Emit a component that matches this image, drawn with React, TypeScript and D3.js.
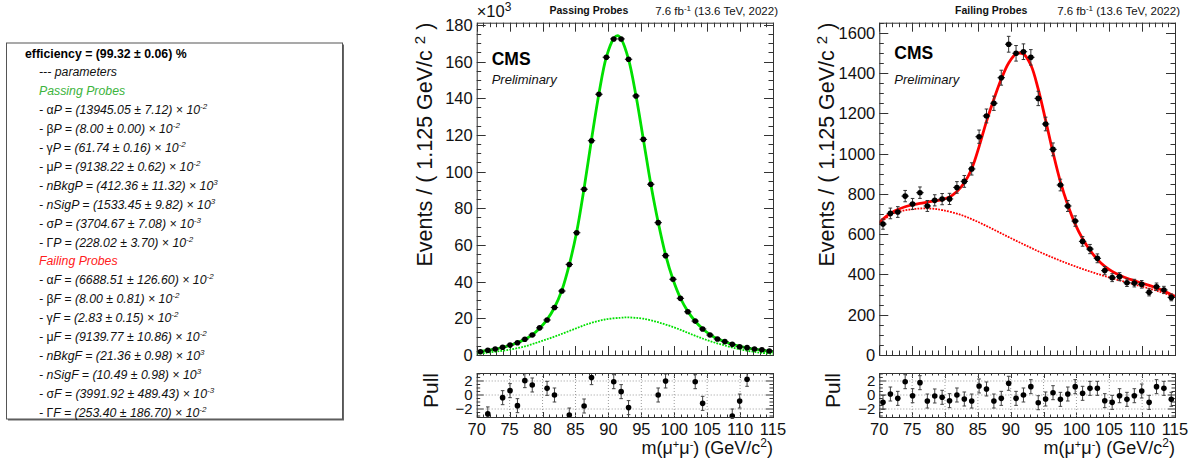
import React from 'react';
import * as d3 from 'd3';

const W = 1203, H = 467;
const FONT = "'Liberation Sans', Arial, Helvetica, sans-serif";

// histogram binning
const massMin = 70, massMax = 115, binWidth = 1.125;
const binCenters = d3.range(40).map(i => massMin + (i + 0.5) * binWidth);

// Passing probes, events per bin (x10^3)
const passingCounts = [1.8, 2.6, 3.3, 4.2, 5.4, 6.7, 8.6, 10.9, 14.8, 19.1, 25.9, 34.9, 49.4, 66.7, 90.4, 116.9, 142.2, 162.4, 172.4, 172.4, 161.3, 141.3, 117.6, 93.1, 72.2, 54.2, 41.3, 30.9, 23.6, 18.5, 14.2, 10.9, 8.7, 7.3, 5.8, 4.5, 4.0, 3.3, 2.9, 2.2];
// Failing probes, events per bin
const failingCounts = [650, 703, 710, 789, 750, 806, 740, 768, 774, 775, 832, 862, 924, 1084, 1187, 1250, 1377, 1543, 1498, 1506, 1478, 1274, 1147, 1021, 844, 740, 665, 564, 526, 480, 419, 384, 389, 359, 357, 351, 311, 339, 323, 286];

// pulls (null = outside the displayed range)
const passingPulls = [null, -2.7, null, -0.38, 0.62, -1.52, 2.05, 1.43, null, 0.95, 0.0, null, -2.86, null, -1.57, 2.48, null, null, 1.9, 0.48, -1.8, null, null, null, 0.0, 2.0, null, null, null, 1.9, -1.19, null, null, null, -3.0, -0.86, 2.24, null, null, null];
const failingPulls = [-1.05, 0.14, -0.48, 1.9, -0.1, 1.76, -0.86, -0.14, -0.33, -0.81, 0, -0.57, -0.86, 1.29, 0.86, -0.86, -0.48, 1.67, -0.48, 0, 1.19, -1.1, -0.57, 0.33, -0.62, 0.14, 1.19, 0.24, 0.95, 0.95, -0.81, -1.05, -0.1, -0.62, -0.1, 0.57, -1.05, 1.19, 0.95, -0.62];

// fitted curves
const passingFitX = [70, 70.5625, 71.6875, 72.8125, 73.9375, 75.0625, 76.1875, 77.3125, 78.4375, 79.5625, 80.6875, 81.8125, 82.9375, 84.0625, 85.1875, 86.3125, 87.4375, 88.5625, 89.6875, 90.8125, 91.4, 91.9375, 93.0625, 94.1875, 95.3125, 96.4375, 97.5625, 98.6875, 99.8125, 100.9375, 102.0625, 103.1875, 104.3125, 105.4375, 106.5625, 107.6875, 108.8125, 109.9375, 111.0625, 112.1875, 113.3125, 114.4375, 115];
const passingFitY = [1.5, 1.9, 2.5, 3.2, 4.1, 5.3, 6.7, 8.6, 11.0, 14.6, 19.3, 25.9, 35.3, 49.3, 67.2, 91.0, 117.5, 142.5, 162.5, 172.6, 174.2, 172.4, 161.3, 141.5, 117.6, 93.3, 72.4, 54.6, 41.2, 31.1, 23.8, 18.4, 14.3, 11.1, 8.8, 7.2, 5.8, 4.7, 3.9, 3.2, 2.6, 2.1, 1.9];
const passingBkgX = [70, 71.5, 73, 74.6, 77.1, 79.6, 82.1, 84.7, 87.2, 89.7, 91.8, 92.8, 94, 95.3, 97.8, 100.4, 102.9, 105.4, 108, 110.5, 113, 115];
const passingBkgY = [0.6, 1.2, 1.9, 2.7, 4.5, 7.3, 10.4, 14.0, 17.3, 19.5, 20.3, 20.5, 20.3, 19.8, 17.6, 14.5, 10.9, 7.6, 4.9, 2.7, 1.3, 0.6];

const failingFitX = passingFitX.filter(x => x !== 91.4);
const failingFitY = [657, 675, 703, 722, 736, 746, 753, 759, 765, 772, 785, 812, 855, 925, 1035, 1160, 1270, 1370, 1450, 1495, 1495, 1440, 1320, 1165, 1005, 860, 745, 650, 577, 520, 475, 440, 415, 396, 381, 369, 357, 346, 333, 318, 300, 291];
const failingBkgX = [70, 71.6, 73, 74.6, 76, 77.2, 78.5, 79.7, 82.3, 84.8, 87.4, 89.9, 92.5, 95, 97.5, 100, 102.5, 105, 107.5, 110, 112.5, 115];
const failingBkgY = [652, 693, 712, 722, 727, 728, 725, 719, 697, 664, 623, 582, 541, 503, 469, 438, 410, 385, 362, 340, 316, 288];

// tick definitions
const xMajorTicks = d3.range(70, 116, 5);
const xMinorTicks = d3.range(70, 116, 1);
const passingYMajor = d3.range(0, 181, 20);
const passingYMinor = d3.range(0, 182, 5);
const failingYMajor = d3.range(0, 1601, 200);
const failingYMinor = d3.range(0, 1651, 50);
const pullMajor = [-2, 0, 2];
const pullMinor = d3.range(-3, 3.01, 0.5);

// parameter box
const passingParams = [
  ['α', 'P', '13945.05', '7.12', '-2'],
  ['β', 'P', '8.00', '0.00', '-2'],
  ['γ', 'P', '61.74', '0.16', '-2'],
  ['μ', 'P', '9138.22', '0.62', '-2'],
  ['', 'nBkgP', '412.36', '11.32', '3'],
  ['', 'nSigP', '1533.45', '9.82', '3'],
  ['σ', 'P', '3704.67', '7.08', '-3'],
  ['Γ', 'P', '228.02', '3.70', '-2'],
];
const failingParams = [
  ['α', 'F', '6688.51', '126.60', '-2'],
  ['β', 'F', '8.00', '0.81', '-2'],
  ['γ', 'F', '2.83', '0.15', '-2'],
  ['μ', 'F', '9139.77', '10.86', '-2'],
  ['', 'nBkgF', '21.36', '0.98', '3'],
  ['', 'nSigF', '10.49', '0.98', '3'],
  ['σ', 'F', '3991.92', '489.43', '-3'],
  ['Γ', 'F', '253.40', '186.70', '-2'],
];

const MAIN_TOP = 22.7, MAIN_BOT = 355, PULL_TOP = 373, PULL_BOT = 417;
const FRAME = '#333';

type PanelProps = {
  id: string; x0: number; x1: number; yMax: number; yMajor: number[]; yMinor: number[];
  counts: number[]; unit: number; pulls: (number | null)[];
  fitX: number[]; fitY: number[]; bkgX: number[]; bkgY: number[]; color: string;
  title: string; cmsY: number; exp: boolean;
};

function Panel(p: PanelProps) {
  const x = d3.scaleLinear().domain([massMin, massMax]).range([p.x0, p.x1]);
  const y = d3.scaleLinear().domain([0, p.yMax]).range([MAIN_BOT, MAIN_TOP]);
  const yp = d3.scaleLinear().domain([-3.14, 3.14]).range([PULL_BOT, PULL_TOP]);
  const curve = d3.curveCatmullRom.alpha(0.5);
  const fitLine = d3.line<number>().x((_, i) => x(p.fitX[i])).y(d => y(d)).curve(curve);
  const bkgLine = d3.line<number>().x((_, i) => x(p.bkgX[i])).y(d => y(d)).curve(curve);
  const hw = binWidth / 2;
  const labelStyle = { fontFamily: FONT, fontSize: 16.5, fill: '#111' } as const;
  const clipMain = `clip-main-${p.id}`;

  return (
    <g>
      <defs>
        <clipPath id={clipMain}>
          <rect x={p.x0} y={MAIN_TOP} width={p.x1 - p.x0} height={MAIN_BOT - MAIN_TOP} />
        </clipPath>
      </defs>
      {/* header */}
      <text x={(p.x0 + p.x1) / 2 - 36} y={14.3} textAnchor="middle" fontFamily={FONT} fontWeight="bold" fontSize={10.5} fill="#111">{p.title}</text>
      <text x={p.x1 + 5} y={15} textAnchor="end" fontFamily={FONT} fontSize={11.5} fill="#111">
        7.6 fb<tspan dy={-4.5} fontSize={8}>-1</tspan><tspan dy={4.5}> (13.6 TeV, 2022)</tspan>
      </text>
      {p.exp && (
        <text x={p.x0} y={17} fontFamily={FONT} fontSize={16.5} fill="#111">×10<tspan dy={-6} fontSize={12}>3</tspan></text>
      )}
      {/* y title */}
      <text transform={`translate(${p.x0 - 45},${MAIN_TOP}) rotate(-90)`} textAnchor="end" fontFamily={FONT} fontSize={21.5} fill="#111">
        Events / ( 1.125 GeV/c <tspan dy={-7} fontSize={15}>2</tspan><tspan dy={7}> )</tspan>
      </text>
      <text transform={`translate(${p.x0 - 39},${PULL_TOP}) rotate(-90)`} textAnchor="end" fontFamily={FONT} fontSize={21} fill="#111">Pull</text>

      {/* main frame ticks */}
      <g stroke={FRAME} strokeWidth={1}>
        {p.yMinor.filter(v => v <= p.yMax).map(v => {
          const len = p.yMajor.includes(v) ? 9 : 4.5;
          const yy = Math.round(y(v)) + 0.5;
          return <g key={'ym' + v}>
            <line x1={p.x0} x2={p.x0 + len} y1={yy} y2={yy} />
            <line x1={p.x1} x2={p.x1 - len} y1={yy} y2={yy} />
          </g>;
        })}
        {xMinorTicks.map(v => {
          const len = xMajorTicks.includes(v) ? 9 : 4.5;
          const xx = Math.round(x(v)) + 0.5;
          return <g key={'xm' + v}>
            <line x1={xx} x2={xx} y1={MAIN_BOT} y2={MAIN_BOT - len} />
            <line x1={xx} x2={xx} y1={MAIN_TOP} y2={MAIN_TOP + len} />
            <line x1={xx} x2={xx} y1={PULL_BOT} y2={PULL_BOT - (xMajorTicks.includes(v) ? 5 : 2.5)} />
            <line x1={xx} x2={xx} y1={PULL_TOP} y2={PULL_TOP + (xMajorTicks.includes(v) ? 5 : 2.5)} />
          </g>;
        })}
        {pullMinor.map(v => {
          const len = pullMajor.includes(v) ? 7 : 3.5;
          const yy = yp(v);
          return <g key={'pm' + v}>
            <line x1={p.x0} x2={p.x0 + len} y1={yy} y2={yy} />
            <line x1={p.x1} x2={p.x1 - len} y1={yy} y2={yy} />
          </g>;
        })}
      </g>

      {/* pull grid */}
      <g stroke="#9a9a9a" strokeWidth={1} strokeDasharray="1 2">
        {xMajorTicks.slice(1, -1).map(v => <line key={'g' + v} x1={x(v)} x2={x(v)} y1={PULL_TOP} y2={PULL_BOT} />)}
        {pullMajor.map(v => <line key={'gy' + v} x1={p.x0} x2={p.x1} y1={yp(v)} y2={yp(v)} />)}
      </g>

      {/* tick labels */}
      {p.yMajor.map(v => (
        <text key={'yl' + v} x={p.x0 - 4} y={y(v)} dy="0.36em" textAnchor="end" {...labelStyle}>{v}</text>
      ))}
      {pullMajor.map(v => (
        <text key={'pl' + v} x={p.x0 - 4} y={yp(v)} dy="0.36em" textAnchor="end" fontFamily={FONT} fontSize={15} fill="#111">{v < 0 ? '−' + Math.abs(v) : v}</text>
      ))}
      {xMajorTicks.map(v => (
        <text key={'xl' + v} x={x(v)} y={435} textAnchor="middle" {...labelStyle}>{v}</text>
      ))}
      <text x={p.x1} y={454} textAnchor="end" fontFamily={FONT} fontSize={18} fill="#111">
        m(μ<tspan dy={-6} fontSize={11}>+</tspan><tspan dy={6}>μ</tspan><tspan dy={-6} fontSize={11}>-</tspan><tspan dy={6}>) (GeV/c</tspan><tspan dy={-7} fontSize={12}>2</tspan><tspan dy={7}>)</tspan>
      </text>

      {/* CMS labels */}
      <text x={p.x0 + 15} y={p.cmsY} fontFamily={FONT} fontWeight="bold" fontSize={17.5} fill="#000">CMS</text>
      <text x={p.x0 + 15} y={84} fontFamily={FONT} fontStyle="italic" fontSize={13} fill="#111">Preliminary</text>

      {/* curves */}
      <g clipPath={`url(#${clipMain})`}>
        <path d={bkgLine(p.bkgY) || ''} fill="none" stroke={p.color} strokeWidth={1.8} strokeDasharray="1.8 1.2" />
        <path d={fitLine(p.fitY) || ''} fill="none" stroke={p.color} strokeWidth={2.8} />
      </g>

      {/* data */}
      <g>
        {p.counts.map((c, i) => {
          const cx = x(binCenters[i]);
          const cy = y(c);
          const err = Math.sqrt(c * p.unit) / p.unit;
          const y1 = y(c + err), y2 = y(c - err);
          return <g key={'d' + i}>
            <line x1={x(binCenters[i] - hw)} x2={x(binCenters[i] + hw)} y1={cy} y2={cy} stroke="#222" strokeWidth={1.1} />
            <line x1={cx} x2={cx} y1={y1} y2={y2} stroke="#333" strokeWidth={1} />
            {y2 - y1 > 4 && <>
              <line x1={cx - 1.8} x2={cx + 1.8} y1={y1} y2={y1} stroke="#333" strokeWidth={1} />
              <line x1={cx - 1.8} x2={cx + 1.8} y1={y2} y2={y2} stroke="#333" strokeWidth={1} />
            </>}
            <circle cx={cx} cy={cy} r={2.8} fill="#000" />
          </g>;
        })}
      </g>

      {/* pulls */}
      <g>
        {p.pulls.map((v, i) => {
          if (v === null) return null;
          const cx = x(binCenters[i]);
          const y1 = Math.max(PULL_TOP, yp(v + 1)), y2 = Math.min(PULL_BOT, yp(v - 1));
          return <g key={'p' + i}>
            <line x1={cx} x2={cx} y1={y1} y2={y2} stroke="#444" strokeWidth={1} />
            {yp(v + 1) >= PULL_TOP && <line x1={cx - 1.8} x2={cx + 1.8} y1={y1} y2={y1} stroke="#444" />}
            {yp(v - 1) <= PULL_BOT && <line x1={cx - 1.8} x2={cx + 1.8} y1={y2} y2={y2} stroke="#444" />}
            <circle cx={cx} cy={yp(v)} r={2.8} fill="#000" />
          </g>;
        })}
      </g>

      {/* frames */}
      <rect x={p.x0 + 0.5} y={MAIN_TOP + 0.5} width={p.x1 - p.x0} height={MAIN_BOT - MAIN_TOP} fill="none" stroke={FRAME} strokeWidth={1} />
      <rect x={p.x0 + 0.5} y={PULL_TOP + 0.5} width={p.x1 - p.x0} height={PULL_BOT - PULL_TOP} fill="none" stroke={FRAME} strokeWidth={1} />
    </g>
  );
}

function ParamLine({ row, yy }: { row: string[]; yy: number }) {
  const [greek, name, val, err, exp] = row;
  return (
    <text x={39} y={yy} fontFamily={FONT} fontSize={12.3} fontStyle="italic" fill="#111">
      {'- '}
      {greek && <tspan fontStyle="normal">{greek}</tspan>}
      {name}{' = ('}{val}{' ± '}{err}{') × 10'}
      <tspan dy={-5} fontSize={8}>{exp}</tspan>
    </text>
  );
}

function ParamBox() {
  const bx = 6, by = 42.5, bw = 336, bh = 376;
  const base = 57.5, step = 18.9;
  const lines: React.ReactNode[] = [];
  lines.push(<text key="eff" x={25} y={base} fontFamily={FONT} fontSize={12.3} fontWeight="bold" fill="#000">efficiency = (99.32 ± 0.06) %</text>);
  lines.push(<text key="par" x={39} y={base + step} fontFamily={FONT} fontSize={12.3} fontStyle="italic" fill="#111">--- parameters</text>);
  lines.push(<text key="pp" x={39} y={base + 2 * step} fontFamily={FONT} fontSize={12.3} fontStyle="italic" fill="#3cb43c">Passing Probes</text>);
  passingParams.forEach((r, i) => lines.push(<ParamLine key={'pp' + i} row={r} yy={base + (3 + i) * step} />));
  lines.push(<text key="fp" x={39} y={base + 11 * step} fontFamily={FONT} fontSize={12.3} fontStyle="italic" fill="#ff2020">Failing Probes</text>);
  failingParams.forEach((r, i) => lines.push(<ParamLine key={'fp' + i} row={r} yy={base + (12 + i) * step} />));
  return (
    <g>
      <rect x={bx + 2} y={by + 2} width={bw} height={bh} fill="#666" />
      <rect x={bx + 0.5} y={by + 0.5} width={bw} height={bh} fill="#fff" stroke="#555" strokeWidth={1} />
      {lines}
    </g>
  );
}

export default function App() {
  return (
    <svg width={W} height={H} viewBox={`0 0 ${W} ${H}`} style={{ position: 'absolute', left: 0, top: 0, background: '#fff', display: 'block' }}>
      <rect width={W} height={H} fill="#fff" />
      <ParamBox />
      <Panel id="pass" x0={476.7} x1={773} yMax={181.25} yMajor={passingYMajor} yMinor={passingYMinor}
        counts={passingCounts} unit={1000} pulls={passingPulls}
        fitX={passingFitX} fitY={passingFitY} bkgX={passingBkgX} bkgY={passingBkgY}
        color="#00e000" title="Passing Probes" cmsY={65} exp={true} />
      <Panel id="fail" x0={879.3} x1={1175} yMax={1650} yMajor={failingYMajor} yMinor={failingYMinor}
        counts={failingCounts} unit={1} pulls={failingPulls}
        fitX={failingFitX} fitY={failingFitY} bkgX={failingBkgX} bkgY={failingBkgY}
        color="#ff0000" title="Failing Probes" cmsY={59} exp={false} />
    </svg>
  );
}
